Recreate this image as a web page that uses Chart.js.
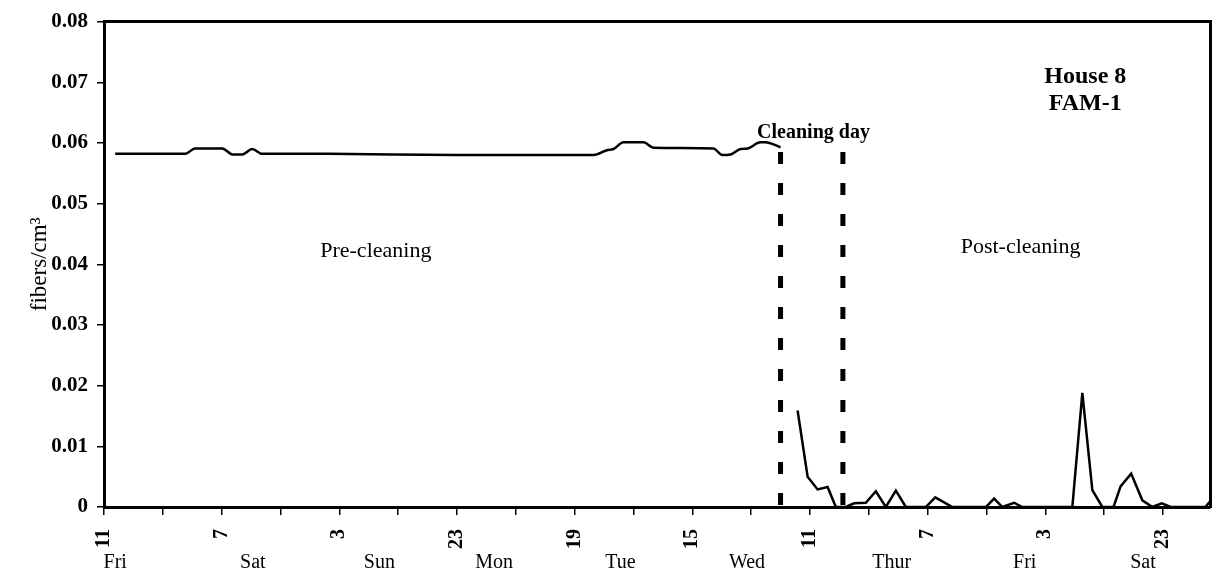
<!DOCTYPE html>
<html>
<head>
<meta charset="utf-8">
<script src="https://cdn.jsdelivr.net/npm/chart.js@4/dist/chart.umd.min.js"></script>
<style>
  html, body { margin: 0; padding: 0; background: #fff; }
  #wrap { width: 1216px; height: 574px; position: relative; }
</style>
</head>
<body>
<div id="wrap"><canvas id="fibersChart"></canvas></div>
<script>
// hours since Fri 11:00, one x tick every 10 h
var hourTicks = [0, 10, 20, 30, 40, 50, 60, 70, 80, 90, 100, 110, 120, 130, 140, 150, 160, 170, 180];
var hourLabels = ['11', '7', '3', '23', '19', '15', '11', '7', '3', '23'];
var dayPos = [1.9, 25.3, 46.8, 66.3, 87.8, 109.3, 133.9, 156.5, 176.6];
var dayNames = ['Fri', 'Sat', 'Sun', 'Mon', 'Tue', 'Wed', 'Thur', 'Fri', 'Sat'];
var yTicks = [0, 0.01, 0.02, 0.03, 0.04, 0.05, 0.06, 0.07, 0.08];

// pre-cleaning readings
var preHours = [1.9, 9, 13.8, 15.5, 20.1, 21.9, 23.5, 25.2, 26.9, 38.1, 60, 83.2, 85.5, 86.6, 88.3, 91.7, 93.4, 103.6, 105.1, 106.5, 108.2, 109.4, 111.6, 112.4, 115];
var preValues = [0.0582, 0.0582, 0.0582, 0.0591, 0.0591, 0.0581, 0.0581, 0.059, 0.0582, 0.0582, 0.058, 0.058, 0.0588, 0.059, 0.0601, 0.0601, 0.0592, 0.0591, 0.058, 0.0581, 0.059, 0.0591, 0.0601, 0.0601, 0.0593];

// post-cleaning readings
var postHours = [117.9, 119.6, 121.3, 123.0, 124.4, 126.1, 127.5, 129.5, 131.2, 132.9, 134.6, 136.3, 139.7, 141.3, 144.2, 149.9, 151.3, 152.7, 154.7, 156.1, 164.6, 166.3, 168.0, 169.7, 171.6, 172.8, 174.6, 176.5, 178.2, 179.8, 181.3, 187.2, 188];
var postValues = [0.0159, 0.0050, 0.0029, 0.0033, 0, 0, 0.0006, 0.0007, 0.0026, 0, 0.0027, 0, 0, 0.0016, 0, 0, 0.0014, 0, 0.0007, 0, 0, 0.0188, 0.0028, 0, 0, 0.0034, 0.0055, 0.0011, 0, 0.0006, 0, 0, 0.0009];

// cleaning day boundaries (hours) and top of the dashed markers
var cleaningStart = 115;
var cleaningEnd = 125.6;
var markerTop = 0.0585;

// text notes, anchored in data units
var notes = [
    { text: 'Pre-cleaning', x: 46.2, y: 0.0421, bold: false, size: 22 },
    { text: 'Post-cleaning', x: 155.8, y: 0.0428, bold: false, size: 22 },
    { text: 'Cleaning day', x: 120.6, y: 0.0616, bold: true, size: 20 },
    { text: 'House 8', x: 166.8, y: 0.0709, bold: true, size: 24 },
    { text: 'FAM-1', x: 166.8, y: 0.0665, bold: true, size: 24 }
];

var serif = "'Liberation Serif', 'Times New Roman', serif";
Chart.defaults.font.family = serif;
Chart.defaults.color = '#000';

function toPoints(xs, ys) {
    return xs.map(function (x, i) { return { x: x, y: ys[i] }; });
}

var notesPlugin = {
    id: 'notes',
    afterDatasetsDraw: function (chart) {
        var ctx = chart.ctx;
        var xs = chart.scales.x;
        var ys = chart.scales.y;
        ctx.save();
        ctx.fillStyle = '#000';
        ctx.textAlign = 'center';
        ctx.textBaseline = 'middle';
        notes.forEach(function (n) {
            ctx.font = (n.bold ? 'bold ' : '') + n.size + 'px ' + serif;
            ctx.fillText(n.text, xs.getPixelForValue(n.x), ys.getPixelForValue(n.y));
        });
        ctx.restore();
    }
};

var ctx = document.getElementById('fibersChart').getContext('2d');
var fibersChart = new Chart(ctx, {
    type: 'line',
    data: {
        datasets: [{
            label: 'Pre-cleaning',
            data: toPoints(preHours, preValues),
            borderColor: '#000',
            borderWidth: 2.5,
            pointRadius: 0,
            cubicInterpolationMode: 'monotone',
            xAxisID: 'x',
            yAxisID: 'y'
        }, {
            label: 'Post-cleaning',
            data: toPoints(postHours, postValues),
            borderColor: '#000',
            borderWidth: 2.5,
            pointRadius: 0,
            tension: 0,
            xAxisID: 'x',
            yAxisID: 'y'
        }, {
            label: 'Cleaning start',
            data: [{ x: cleaningStart, y: markerTop }, { x: cleaningStart, y: 0 }],
            borderColor: '#000',
            borderWidth: 5,
            borderDash: [12, 19],
            borderCapStyle: 'butt',
            pointRadius: 0,
            xAxisID: 'x',
            yAxisID: 'y'
        }, {
            label: 'Cleaning end',
            data: [{ x: cleaningEnd, y: markerTop }, { x: cleaningEnd, y: 0 }],
            borderColor: '#000',
            borderWidth: 5,
            borderDash: [12, 19],
            borderCapStyle: 'butt',
            pointRadius: 0,
            xAxisID: 'x',
            yAxisID: 'y'
        }]
    },
    options: {
        responsive: true,
        maintainAspectRatio: false,
        animation: false,
        layout: {
            padding: { left: 0, right: 6, top: 19, bottom: 0 }
        },
        plugins: {
            legend: { display: false },
            tooltip: { enabled: false }
        },
        scales: {
            x: {
                type: 'linear',
                position: 'bottom',
                weight: 0,
                min: 0,
                max: 188,
                afterBuildTicks: function (scale) {
                    scale.ticks = hourTicks.map(function (v) { return { value: v }; });
                },
                afterFit: function (scale) { scale.height = 44; },
                grid: {
                    drawOnChartArea: false,
                    color: '#000',
                    lineWidth: 1.5,
                    tickLength: 8
                },
                border: { display: true, color: '#000', width: 3 },
                ticks: {
                    autoSkip: false,
                    minRotation: 90,
                    maxRotation: 90,
                    padding: 14,
                    font: { size: 20, weight: 'bold' },
                    callback: function (value, index) {
                        return index % 2 === 0 ? hourLabels[index / 2] : '';
                    }
                }
            },
            xDays: {
                type: 'linear',
                position: 'bottom',
                weight: 1,
                min: 0,
                max: 188,
                afterBuildTicks: function (scale) {
                    scale.ticks = dayPos.map(function (v) { return { value: v }; });
                },
                afterFit: function (scale) { scale.height = 23; },
                grid: { display: false, drawTicks: false },
                border: { display: false },
                ticks: {
                    autoSkip: false,
                    minRotation: 0,
                    maxRotation: 0,
                    padding: 0,
                    font: { size: 20 },
                    callback: function (value, index) { return dayNames[index]; }
                }
            },
            xTop: {
                type: 'linear',
                position: 'top',
                min: 0,
                max: 188,
                afterFit: function (scale) { scale.height = 0; },
                grid: { display: false },
                border: { display: true, color: '#000', width: 3 },
                ticks: { display: false }
            },
            y: {
                type: 'linear',
                position: 'left',
                min: 0,
                max: 0.08,
                afterBuildTicks: function (scale) {
                    scale.ticks = yTicks.map(function (v) { return { value: v }; });
                },
                afterFit: function (scale) { scale.width = 104; },
                grid: {
                    drawOnChartArea: false,
                    color: '#000',
                    lineWidth: 1.5,
                    tickLength: 7
                },
                border: { display: true, color: '#000', width: 3 },
                ticks: {
                    padding: 9,
                    font: { size: 21, weight: 'bold' },
                    callback: function (value) {
                        return value === 0 ? '0' : (Math.round(value * 100) / 100).toFixed(2);
                    }
                },
                title: {
                    display: true,
                    text: 'fibers/cm³',
                    font: { size: 23 },
                    padding: { top: 26, bottom: 0 }
                }
            },
            yRight: {
                type: 'linear',
                position: 'right',
                min: 0,
                max: 0.08,
                afterFit: function (scale) { scale.width = 0; },
                grid: { display: false },
                border: { display: true, color: '#000', width: 3 },
                ticks: { display: false }
            }
        }
    },
    plugins: [notesPlugin]
});
</script>
</body>
</html>
